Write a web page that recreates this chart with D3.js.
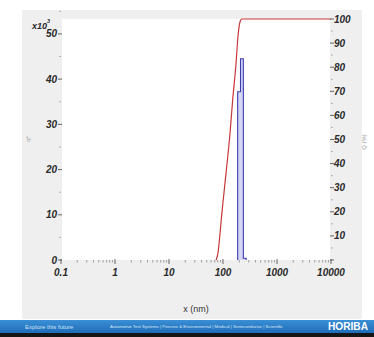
<!DOCTYPE html>
<html>
<head>
<meta charset="utf-8">
<script src="https://cdn.jsdelivr.net/npm/d3@7/dist/d3.min.js"></script>
<style>
  html, body { margin: 0; padding: 0; background: #fff; }
  svg { display: block; }
  .tick-label { font-family: "Liberation Sans Narrow", "Arial Narrow", "Liberation Sans", sans-serif; font-weight: bold; font-style: italic; font-size: 10px; fill: #2a2a2a; }
</style>
</head>
<body>
<svg id="chart" width="374" height="337"></svg>
<script>
// Particle size distribution: frequency q* (x10^3, histogram) and cumulative Q (%)
const xTicks = [0.1, 1, 10, 100, 1000, 10000];
const xTickLabels = ["0.1", "1", "10", "100", "1000", "10000"];
const leftTicks = [0, 10, 20, 30, 40, 50];
const rightTicks = [10, 20, 30, 40, 50, 60, 70, 80, 90, 100];

// histogram bins: edges (nm) and q* values (x10^3)
const binEdges = [187, 211, 238, 268];
const binValues = [37.2, 44.5, 0.4];

// cumulative curve: size (nm) and Q (%)
const cumSize = [74, 76, 82, 88, 94, 101, 117, 135, 151, 172, 192, 210, 222, 10000];
const cumQ    = [0,  0.5, 4,  11, 18, 25,  38.6, 52.7, 66.4, 80, 94.2, 99.3, 100, 100];

const svg = d3.select("#chart");
const W = 374, H = 337;

// page panel
svg.append("rect").attr("x", 0).attr("y", 0).attr("width", W).attr("height", H).attr("fill", "#fff");
svg.append("rect").attr("x", 22).attr("y", 10).attr("width", 340).attr("height", 309).attr("fill", "#efefef");

const x = d3.scaleLog().domain([0.1, 10000]).range([61, 331]);
const yL = d3.scaleLinear().domain([0, 53.3]).range([260, 19]);
const yR = d3.scaleLinear().domain([0, 100]).range([260, 19]);

// plotting area
svg.append("rect").attr("x", 62).attr("y", 19).attr("width", 268).attr("height", 241).attr("fill", "#fff");

// x axis: major and minor log ticks
const minor = [];
for (let d = 0.1; d < 10000; d *= 10) for (let k = 2; k <= 9; k++) minor.push(d * k);
const xAxis = svg.append("g").attr("class", "x-axis");
xAxis.selectAll("line.minor").data(minor).join("line")
  .attr("x1", d => x(d)).attr("x2", d => x(d))
  .attr("y1", 260).attr("y2", 262.5)
  .attr("stroke", "#888").attr("stroke-width", 0.8);
xAxis.selectAll("line.major").data(xTicks).join("line")
  .attr("x1", d => x(d)).attr("x2", d => x(d))
  .attr("y1", 259).attr("y2", 264)
  .attr("stroke", "#555").attr("stroke-width", 0.9);
xAxis.selectAll("text").data(xTicks).join("text")
  .attr("class", "tick-label")
  .attr("x", d => x(d)).attr("y", 276)
  .attr("text-anchor", "middle")
  .text((d, i) => xTickLabels[i]);

// left axis
const lAxis = svg.append("g");
lAxis.selectAll("line.maj").data(leftTicks).join("line")
  .attr("x1", 58).attr("x2", 62)
  .attr("y1", d => yL(d)).attr("y2", d => yL(d))
  .attr("stroke", "#555").attr("stroke-width", 0.9);
lAxis.selectAll("line.min").data(leftTicks.map(d => d + 5)).join("line")
  .attr("x1", 59.5).attr("x2", 61)
  .attr("y1", d => yL(d)).attr("y2", d => yL(d))
  .attr("stroke", "#888").attr("stroke-width", 0.8);
lAxis.selectAll("text").data(leftTicks).join("text")
  .attr("class", "tick-label")
  .attr("x", 57).attr("y", d => yL(d) + 3.5)
  .attr("text-anchor", "end")
  .text(d => d);

// right axis
const rAxis = svg.append("g");
rAxis.selectAll("line.maj").data([0].concat(rightTicks)).join("line")
  .attr("x1", 330).attr("x2", 334)
  .attr("y1", d => yR(d)).attr("y2", d => yR(d))
  .attr("stroke", "#555").attr("stroke-width", 0.9);
rAxis.selectAll("line.min").data([0].concat(rightTicks.slice(0, -1)).map(d => d + 5)).join("line")
  .attr("x1", 331).attr("x2", 332.5)
  .attr("y1", d => yR(d)).attr("y2", d => yR(d))
  .attr("stroke", "#888").attr("stroke-width", 0.8);
rAxis.selectAll("text").data(rightTicks).join("text")
  .attr("class", "tick-label")
  .attr("x", 334).attr("y", d => yR(d) + 3.5)
  .attr("text-anchor", "start")
  .text(d => d);

// axis titles
const mult = svg.append("text").attr("class", "tick-label")
  .attr("x", 32).attr("y", 29).style("font-size", "9px");
mult.append("tspan").text("x10");
mult.append("tspan").attr("dy", -6).style("font-size", "5.5px").text("3");
svg.append("text")
  .attr("transform", "translate(30,139) rotate(-90)")
  .attr("text-anchor", "middle")
  .attr("font-family", "Liberation Sans, sans-serif").attr("font-size", "6px").attr("fill", "#999")
  .text("q*");
svg.append("text")
  .attr("transform", "translate(366,142) rotate(-90)")
  .attr("text-anchor", "middle")
  .attr("font-family", "Liberation Sans, sans-serif").attr("font-size", "6px").attr("fill", "#999")
  .text("Q (%)");
svg.append("text")
  .attr("x", 196).attr("y", 312)
  .attr("text-anchor", "middle")
  .attr("font-family", "Liberation Sans Narrow, Liberation Sans, sans-serif").attr("font-size", "9px").attr("fill", "#333")
  .text("x (nm)");

// histogram as a stepped outline
const steps = [[binEdges[0], 0]];
binValues.forEach((v, i) => {
  steps.push([binEdges[i], v]);
  steps.push([binEdges[i + 1], v]);
});
steps.push([binEdges[binEdges.length - 1], 0]);
svg.append("path")
  .datum(steps)
  .attr("d", d3.line().x(d => x(d[0])).y(d => yL(d[1])))
  .attr("fill", "#d6d6f5")
  .attr("stroke", "#3b3bb0")
  .attr("stroke-width", 1.1);

// cumulative curve
svg.append("path")
  .datum(cumSize.map((s, i) => [s, cumQ[i]]))
  .attr("d", d3.line().x(d => x(d[0])).y(d => yR(d[1])).curve(d3.curveMonotoneX))
  .attr("fill", "none")
  .attr("stroke", "#c8383a")
  .attr("stroke-width", 1.2);

// footer band
const grad = svg.append("defs").append("linearGradient").attr("id", "band").attr("x1", 0).attr("x2", 0).attr("y1", 0).attr("y2", 1);
grad.append("stop").attr("offset", "0%").attr("stop-color", "#3a8fd6");
grad.append("stop").attr("offset", "100%").attr("stop-color", "#1f6cb8");
svg.append("rect").attr("x", 0).attr("y", 320).attr("width", W).attr("height", 13).attr("fill", "url(#band)");
svg.append("rect").attr("x", 0).attr("y", 333).attr("width", W).attr("height", 4).attr("fill", "#151515");
svg.append("text").attr("x", 25).attr("y", 328.5)
  .attr("font-family", "Liberation Sans, sans-serif").attr("font-size", "6px").attr("fill", "#cfe2f5")
  .text("Explore this future");
svg.append("text").attr("x", 110).attr("y", 328)
  .attr("font-family", "Liberation Sans, sans-serif").attr("font-size", "3.6px").attr("fill", "#d8e8f7")
  .attr("textLength", 173).attr("lengthAdjust", "spacingAndGlyphs")
  .text("Automotive Test Systems | Process & Environmental | Medical | Semiconductor | Scientific");
svg.append("text").attr("x", 328).attr("y", 330)
  .attr("font-family", "Liberation Sans, sans-serif").attr("font-weight", "bold").attr("font-size", "10px").attr("fill", "#fff")
  .attr("textLength", 40).attr("lengthAdjust", "spacingAndGlyphs")
  .text("HORIBA");
</script>
</body>
</html>
